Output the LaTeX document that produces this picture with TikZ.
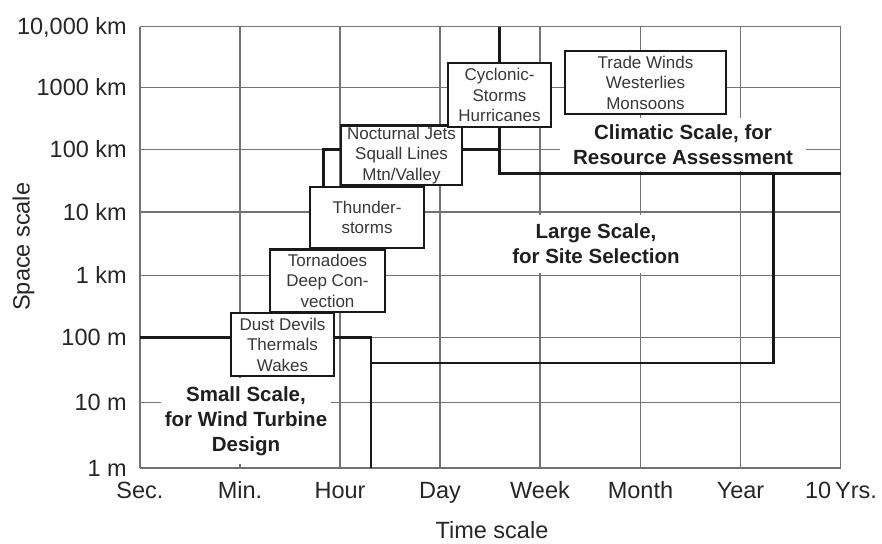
\documentclass[tikz,border=0pt]{standalone}
\usepackage{fontspec}
\setmainfont{Liberation Sans}
\begin{document}
\begin{tikzpicture}[x=1pt,y=-1pt,
  gridline/.style={line width=1.1pt, draw=black!55},
  bound/.style={line width=2.8pt, draw=black!90, line join=miter},
  scalebox/.style={draw=black!90, line width=2.8pt, fill=white, inner sep=0pt, align=center, text=black!78, font=\fontsize{17}{20.5}\selectfont},
  scalelabel/.style={fill=white, align=center, inner sep=0pt, text=black!88, font=\bfseries\fontsize{20.5}{25}\selectfont},
  ticklabel/.style={inner sep=0pt, text=black!85, font=\fontsize{23.5}{27}\selectfont},
]
\useasboundingbox (0,0) rectangle (882,543);

% grid
\foreach \x in {140,240,340,440,540,640.5,740.5,840.5}
  \draw[gridline] (\x,26.7) -- (\x,468);
\foreach \y in {26.7,87.3,149.5,212,275.3,337.5,402.5,468}
  \draw[gridline] (140,\y) -- (840.5,\y);

% axis tick labels
\node[ticklabel, anchor=base east] (t1) at (127,35) {10,000 km};
\node[ticklabel, anchor=base east] (t2) at (127,95.6) {1000 km};
\node[ticklabel, anchor=base east] (t3) at (127,157.8) {100 km};
\node[ticklabel, anchor=base east] (t4) at (127,220.3) {10 km};
\node[ticklabel, anchor=base east] (t5) at (127,283.6) {1 km};
\node[ticklabel, anchor=base east] (t6) at (127,345.8) {100 m};
\node[ticklabel, anchor=base east] (t7) at (127,410.8) {10 m};
\node[ticklabel, anchor=base east] (t8) at (127,476.3) {1 m};

\node[ticklabel, anchor=base] (x1) at (140,498.3) {Sec.};
\node[ticklabel, anchor=base] (x2) at (240,498.3) {Min.};
\node[ticklabel, anchor=base] (x3) at (340,498.3) {Hour};
\node[ticklabel, anchor=base] (x4) at (440,498.3) {Day};
\node[ticklabel, anchor=base] (x5) at (540,498.3) {Week};
\node[ticklabel, anchor=base] (x6) at (640.5,498.3) {Month};
\node[ticklabel, anchor=base] (x7) at (740.5,498.3) {Year};
\node[ticklabel, anchor=base] (x8) at (841,498.3) {10\,Yrs.};

\node[ticklabel, anchor=base] (xtitle) at (492,538.5) {Time scale};
\node[ticklabel, rotate=90] (ytitle) at (23.5,246.7) {Space scale};

% white label areas
\node[scalelabel, minimum width=246, minimum height=53] (clim) at (683,144.5) {Climatic Scale, for\\Resource Assessment};
\node[scalelabel, minimum width=182, minimum height=58] (large) at (596,244) {Large Scale,\\for Site Selection};
\node[scalelabel, minimum width=170, minimum height=86] (small) at (246,421) {Small Scale,\\for Wind Turbine\\Design};

% boxes
\node[scalebox, minimum width=103, minimum height=63] (dust) at (282.5,344.5) {Dust Devils\\Thermals\\Wakes};
\node[scalebox, minimum width=115, minimum height=62.5] (torn) at (327.5,280.75) {Tornadoes\\Deep Con-\\vection};
\node[scalebox, minimum width=114, minimum height=61] (thun) at (367,217.5) {Thunder-\\storms};
\node[scalebox, minimum width=121, minimum height=59.5] (noct) at (401.5,155.25) {Nocturnal Jets\\Squall Lines\\Mtn/Valley};
\node[scalebox, minimum width=103, minimum height=64] (cycl) at (499.5,95) {Cyclonic-\\Storms\\Hurricanes};
\node[scalebox, minimum width=161, minimum height=63] (trade) at (645.5,82.5) {Trade Winds\\Westerlies\\Monsoons};

% boundary lines
\coordinate (left100) at (140,337.5);
\coordinate (smallcorner) at (371,337.5);
\coordinate (smallfoot) at (371,468);
\coordinate (largeleft) at (371,363);
\coordinate (largecorner) at (773.5,363);
\coordinate (largetop) at (773.5,173.5);
\coordinate (climcorner) at (499.5,173.5);
\coordinate (climright) at (840.5,173.5);
\coordinate (cyctop) at (499.5,26.7);
\coordinate (nocright) at (499.5,149.5);
\coordinate (stepA) at (323.5,149.5);

\draw[bound] (left100) -- (left100 -| dust.west);
\draw[bound] (dust.east |- smallcorner) -- (smallcorner) -- (smallfoot);
\draw[bound] (largeleft) -- (largecorner) -- (largetop);
\draw[bound] (cycl.south) -- (climcorner) -- (climright);
\draw[bound] (cyctop) -- (cycl.north);
\draw[bound] (noct.east |- nocright) -- (nocright);
\draw[bound] (stepA |- thun.north) -- (stepA) -- (stepA -| noct.west);
\end{tikzpicture}
\end{document}
